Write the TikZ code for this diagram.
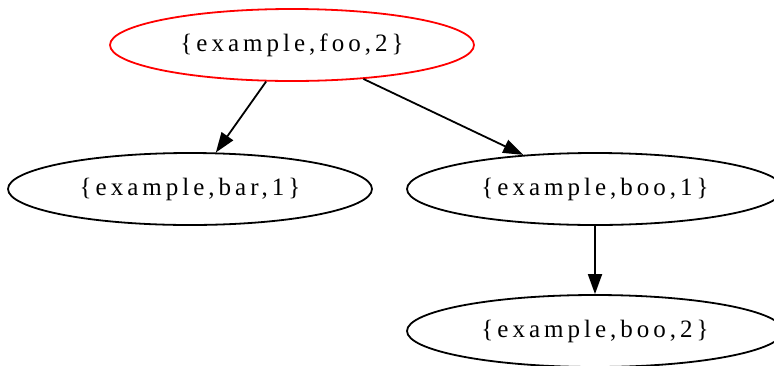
\documentclass[tikz,border=0pt]{standalone}
\usepackage{fontspec}
\setmainfont{Liberation Serif}[LetterSpace=16]
\usetikzlibrary{arrows.meta,positioning,shapes.geometric}
\tikzset{%
  arrow/.style={line width=1.8pt,-{Triangle[length=20pt,width=14pt]}},
  entity/.style={ellipse,draw,line width=1.8pt,minimum width=364pt,
    minimum height=72pt,inner sep=0pt,font=\fontsize{25}{29}\selectfont},
}
\definecolor{red}{HTML}{FF0000}

\begin{document}
\begin{tikzpicture}[x=1pt,y=1pt]
    \useasboundingbox (0,0) rectangle (774,-365);

    \node[entity,draw=red] (foo2) at (292,-45) {\{example,foo,2\}};
    \node[entity] (bar1) at (190,-189) {\{example,bar,1\}};
    \node[entity,minimum width=376pt] (boo1) at (595,-189) {\{example,boo,1\}};
    \node[entity,minimum width=376pt] (boo2) at (595,-331) {\{example,boo,2\}};

    \draw[arrow] (foo2) -- (bar1);
    \draw[arrow] (foo2) -- (boo1);
    \draw[arrow] (boo1) -- (boo2);
  \end{tikzpicture}
\end{document}
